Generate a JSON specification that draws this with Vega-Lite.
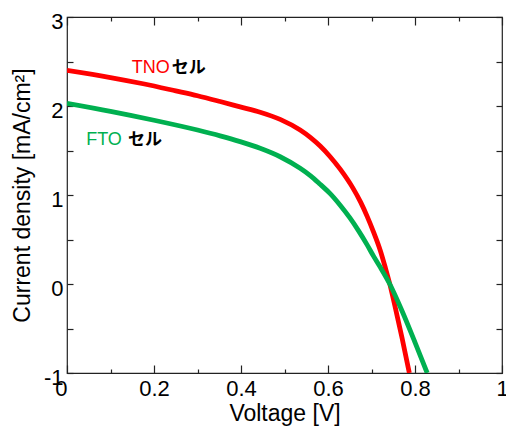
{
  "$schema": "https://vega.github.io/schema/vega-lite/v6.json",
  "width": 435,
  "height": 356,
  "autosize": {"type": "none"},
  "padding": {"left": 67, "top": 17, "right": 4, "bottom": 54},
  "background": "white",
  "config": {
    "view": {"stroke": "#222", "strokeWidth": 1.2},
    "font": "Liberation Sans",
    "axis": {"grid": false, "domain": false, "ticks": true, "zindex": 2, "labelFont": "Liberation Sans", "titleFont": "Liberation Sans", "labelColor": "#000", "titleColor": "#000", "tickColor": "#222", "tickWidth": 1.2, "titleFontWeight": "normal", "format": "~g"}
  },
  "datasets": {
    "curves": [
      {"series": "TNO", "V": 0.0, "J": 2.40},
      {"series": "TNO", "V": 0.1, "J": 2.32},
      {"series": "TNO", "V": 0.175, "J": 2.25},
      {"series": "TNO", "V": 0.25, "J": 2.17},
      {"series": "TNO", "V": 0.3, "J": 2.115},
      {"series": "TNO", "V": 0.352, "J": 2.05},
      {"series": "TNO", "V": 0.398, "J": 1.99},
      {"series": "TNO", "V": 0.444, "J": 1.93},
      {"series": "TNO", "V": 0.49, "J": 1.85},
      {"series": "TNO", "V": 0.536, "J": 1.73},
      {"series": "TNO", "V": 0.56, "J": 1.645},
      {"series": "TNO", "V": 0.582, "J": 1.55},
      {"series": "TNO", "V": 0.605, "J": 1.43},
      {"series": "TNO", "V": 0.628, "J": 1.29},
      {"series": "TNO", "V": 0.657, "J": 1.08},
      {"series": "TNO", "V": 0.675, "J": 0.92},
      {"series": "TNO", "V": 0.69, "J": 0.76},
      {"series": "TNO", "V": 0.705, "J": 0.58},
      {"series": "TNO", "V": 0.72, "J": 0.38},
      {"series": "TNO", "V": 0.732, "J": 0.18},
      {"series": "TNO", "V": 0.742, "J": 0.0},
      {"series": "TNO", "V": 0.754, "J": -0.25},
      {"series": "TNO", "V": 0.77, "J": -0.6},
      {"series": "TNO", "V": 0.787, "J": -1.0},
      {"series": "FTO", "V": 0.0, "J": 2.03},
      {"series": "FTO", "V": 0.1, "J": 1.94},
      {"series": "FTO", "V": 0.2, "J": 1.84},
      {"series": "FTO", "V": 0.3, "J": 1.73},
      {"series": "FTO", "V": 0.352, "J": 1.665},
      {"series": "FTO", "V": 0.398, "J": 1.60},
      {"series": "FTO", "V": 0.444, "J": 1.525},
      {"series": "FTO", "V": 0.49, "J": 1.43},
      {"series": "FTO", "V": 0.536, "J": 1.30},
      {"series": "FTO", "V": 0.56, "J": 1.215},
      {"series": "FTO", "V": 0.582, "J": 1.12},
      {"series": "FTO", "V": 0.605, "J": 1.015},
      {"series": "FTO", "V": 0.628, "J": 0.885},
      {"series": "FTO", "V": 0.65, "J": 0.745},
      {"series": "FTO", "V": 0.67, "J": 0.60},
      {"series": "FTO", "V": 0.69, "J": 0.44},
      {"series": "FTO", "V": 0.705, "J": 0.31},
      {"series": "FTO", "V": 0.72, "J": 0.19},
      {"series": "FTO", "V": 0.742, "J": 0.0},
      {"series": "FTO", "V": 0.77, "J": -0.30},
      {"series": "FTO", "V": 0.8, "J": -0.655},
      {"series": "FTO", "V": 0.828, "J": -1.0}
    ],
    "labels": [
      {"series": "TNO", "V": 0.149, "J": 2.43, "name": "TNO", "V2": 0.241},
      {"series": "FTO", "V": 0.044, "J": 1.62, "name": "FTO", "V2": 0.14}
    ]
  },
  "resolve": {"axis": {"x": "independent", "y": "independent"}},
  "layer": [
    {
      "mark": {"type": "rule", "strokeDash": [4, 3], "color": "#777", "strokeWidth": 1.2},
      "encoding": {"y": {"datum": 0, "type": "quantitative", "scale": {"domain": [-1, 3]}, "axis": {"orient": "right", "values": [-1, -0.5, 0, 0.5, 1, 1.5, 2, 2.5, 3], "labels": false, "title": null, "tickSize": -6}}}
    },
    {
      "data": {"name": "curves"},
      "mark": {"type": "line", "strokeWidth": 4.8, "clip": true, "interpolate": "monotone"},
      "encoding": {
        "x": {"field": "V", "type": "quantitative", "scale": {"domain": [0, 1], "nice": false},
              "axis": {"orient": "bottom", "values": [0, 0.1, 0.2, 0.3, 0.4, 0.5, 0.6, 0.7, 0.8, 0.9, 1],
                       "labelExpr": "round(datum.value*10) % 2 == 0 ? datum.label : ''",
                       "labelAlign": {"condition": {"test": "datum.value == 0", "value": "right"}, "value": "center"},
                       "tickSize": {"condition": {"test": "round(datum.value*10) % 2 == 0", "value": -8}, "value": -4},
                       "labelFontSize": 22, "labelPadding": 13, "labelFlush": false,
                       "title": "Voltage [V]", "titleFontSize": 23, "titlePadding": 3}},
        "y": {"field": "J", "type": "quantitative", "scale": {"domain": [-1, 3], "nice": false},
              "axis": {"orient": "left", "values": [-1, -0.5, 0, 0.5, 1, 1.5, 2, 2.5, 3],
                       "labelExpr": "datum.value % 1 == 0 ? replace(datum.label, '−', '-') : ''",
                       "tickSize": -6, "labelFontSize": 22, "labelPadding": 10, "labelOffset": 4,
                       "title": "Current density [mA/cm²]", "titleFontSize": 23, "titlePadding": 9}},
        "color": {"field": "series", "type": "nominal", "scale": {"domain": ["TNO", "FTO"], "range": ["#FF0000", "#00B050"]}, "legend": null},
        "order": {"field": "V", "type": "quantitative"}
      }
    },
    {
      "data": {"name": "curves"},
      "mark": {"type": "point", "opacity": 0},
      "encoding": {
        "x": {"field": "V", "type": "quantitative", "axis": {"orient": "top", "values": [0, 0.1, 0.2, 0.3, 0.4, 0.5, 0.6, 0.7, 0.8, 0.9, 1], "labels": false, "title": null,
              "tickSize": {"condition": {"test": "round(datum.value*10) % 2 == 0", "value": -8}, "value": -4}}},
        "y": {"field": "J", "type": "quantitative", "axis": null}
      }
    },
    {
      "data": {"name": "labels"},
      "mark": {"type": "text", "align": "left", "baseline": "middle", "fontSize": 18, "font": "Liberation Sans"},
      "encoding": {
        "x": {"field": "V", "type": "quantitative", "axis": null},
        "y": {"field": "J", "type": "quantitative", "axis": null},
        "text": {"field": "name"},
        "color": {"field": "series", "type": "nominal", "legend": null}
      }
    },
    {
      "data": {"name": "labels"},
      "mark": {"type": "text", "align": "left", "baseline": "middle", "fontSize": 17, "fontWeight": "bold", "font": "Noto Sans CJK JP", "color": "#000"},
      "encoding": {
        "x": {"field": "V2", "type": "quantitative", "axis": null},
        "y": {"field": "J", "type": "quantitative", "axis": null},
        "text": {"value": "セル"}
      }
    }
  ]
}
